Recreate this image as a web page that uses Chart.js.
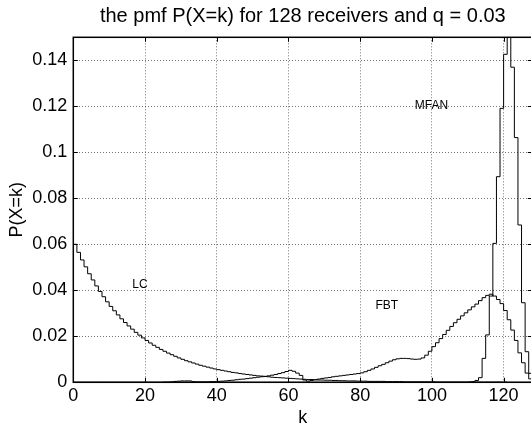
<!DOCTYPE html>
<html><head><meta charset="utf-8">
<script src="https://cdn.jsdelivr.net/npm/chart.js@4.4.1/dist/chart.umd.min.js"></script>
<style>
html,body{margin:0;padding:0;background:#fff;overflow:hidden;width:531px;height:428px;}
#wrap{position:absolute;left:0;top:0;width:540px;height:428px;}
</style></head><body>
<div id="wrap"><canvas id="c" width="540" height="428"></canvas></div>
<script>
const k = [
  0,1,2,3,4,5,6,7,8,9,
  10,11,12,13,14,15,16,17,18,19,
  20,21,22,23,24,25,26,27,28,29,
  30,31,32,33,34,35,36,37,38,39,
  40,41,42,43,44,45,46,47,48,49,
  50,51,52,53,54,55,56,57,58,59,
  60,61,62,63,64,65,66,67,68,69,
  70,71,72,73,74,75,76,77,78,79,
  80,81,82,83,84,85,86,87,88,89,
  90,91,92,93,94,95,96,97,98,99,
  100,101,102,103,104,105,106,107,108,109,
  110,111,112,113,114,115,116,117,118,119,
  120,121,122,123,124,125,126,127,128
];
const lcValues = [
  0.0600,0.0565,0.0532,0.0502,0.0472,0.0445,0.0419,0.0395,0.0372,0.0350,
  0.0330,0.0311,0.0293,0.0276,0.0260,0.0245,0.0231,0.0217,0.0205,0.0193,
  0.0182,0.0171,0.0161,0.0152,0.0143,0.0135,0.0127,0.0120,0.0113,0.0106,
  0.0100,0.0094,0.0089,0.0084,0.0079,0.0074,0.0070,0.0066,0.0062,0.0058,
  0.0055,0.0052,0.0049,0.0046,0.0043,0.0041,0.0038,0.0036,0.0034,0.0032,
  0.0030,0.0028,0.0027,0.0025,0.0024,0.0022,0.0021,0.0020,0.0019,0.0018,
  0.0017,0.0016,0.0015,0.0014,0.0013,0.0012,0.0012,0.0011,0.0010,0.0010,
  0.0009,0.0009,0.0008,0.0008,0.0007,0.0007,0.0006,0.0006,0.0006,0.0005,
  0.0005,0.0005,0.0004,0.0004,0.0004,0.0004,0.0004,0.0003,0.0003,0.0003,
  0.0003,0.0003,0.0002,0.0002,0.0002,0.0002,0.0002,0.0002,0.0002,0.0002,
  0.0002,0.0001,0.0001,0.0001,0.0001,0.0001,0.0001,0.0001,0.0001,0.0001,
  0.0001,0.0001,0.0001,0.0001,0.0001,0.0001,0.0001,0.0001,0.0001,0.0001,
  0.0001,0.0000,0.0000,0.0000,0.0000,0.0000,0.0000,0.0000,0.0000
];
const fbtValues = [
  0,0,0,0,0,0,0,0,0,0,
  0,0,0,0,0,0,0,0,0,0,
  0,0,0,0,0,0.0001,0.0001,0.0002,0.0004,0.0005,
  0.0006,0.0006,0.0006,0.0003,0.0002,0.0002,0.0002,0.0002,0.0003,0.0003,
  0.0004,0.0005,0.0006,0.0008,0.0009,0.0011,0.0013,0.0014,0.0016,0.0018,
  0.0020,0.0022,0.0024,0.0026,0.0028,0.0031,0.0034,0.0038,0.0042,0.0047,
  0.0052,0.0048,0.0040,0.0030,0.0010,0.0005,0.0008,0.0011,0.0014,0.0017,
  0.0019,0.0021,0.0024,0.0026,0.0028,0.0030,0.0032,0.0034,0.0036,0.0038,
  0.0041,0.0046,0.0052,0.0058,0.0065,0.0072,0.0078,0.0085,0.0092,0.0098,
  0.0102,0.0104,0.0104,0.0103,0.0101,0.0100,0.0101,0.0106,0.0118,0.0135,
  0.0155,0.0172,0.0190,0.0208,0.0226,0.0243,0.0259,0.0274,0.0289,0.0302,
  0.0315,0.0328,0.0340,0.0355,0.0368,0.0378,0.0383,0.0375,0.0360,0.0342,
  0.0312,0.0272,0.0227,0.0182,0.0128,0.0085,0.0040,0.0015,0.0000
];
const mfanValues = [
  0,0,0,0,0,0,0,0,0,0,
  0,0,0,0,0,0,0,0,0,0,
  0,0,0,0,0,0,0,0,0,0,
  0,0,0,0,0,0,0,0,0,0,
  0,0,0,0,0,0,0,0,0,0,
  0,0,0,0,0,0,0,0,0,0,
  0,0,0,0,0,0,0,0,0,0,
  0,0,0,0,0,0,0,0,0,0,
  0,0,0,0,0,0,0,0,0,0,
  0,0,0,0,0,0,0,0,0,0,
  0,0,0,0,0,0,0,0,0,0,
  0.0001,0.0003,0.0008,0.0020,0.0104,0.0206,0.0375,0.0604,0.0894,0.1191,
  0.1426,0.1520,0.1370,0.1064,0.0684,0.0346,0.0133,0.0039,0.0008
];
const xTicks = [0,20,40,60,80,100,120];
const yTicks = [0,0.02,0.04,0.06,0.08,0.1,0.12,0.14];
const yTickLabels = ['0','0.02','0.04','0.06','0.08','0.1','0.12','0.14'];
const curveLabels = [
  {text:'LC', k:18.6, p:0.0426},
  {text:'FBT', k:87.4, p:0.0333},
  {text:'MFAN', k:99.9, p:0.1201}
];
const titleText = 'the pmf P(X=k) for 128 receivers and q = 0.03';

const FONT = "'Liberation Sans', Arial, Helvetica, sans-serif";
const series = (label, vals) => ({
  label,
  data: k.map((x, i) => ({x: x, y: vals[i]})),
  stepped: true,
  borderColor: '#000',
  borderWidth: 1,
  pointRadius: 0,
  fill: false,
  tension: 0
});

const boxPlugin = {
  id: 'box',
  afterDatasetsDraw(chart) {
    const {ctx, chartArea: a, scales: {x, y}} = chart;
    ctx.save();
    ctx.strokeStyle = '#000';
    ctx.lineWidth = 1.5;
    ctx.strokeRect(a.left, a.top, a.right - a.left, a.bottom - a.top);
    ctx.lineWidth = 1;
    const L = 4.5;
    const seg = (x1, y1, x2, y2) => { ctx.beginPath(); ctx.moveTo(x1, y1); ctx.lineTo(x2, y2); ctx.stroke(); };
    xTicks.forEach(v => {
      const px = Math.round(x.getPixelForValue(v)) + 0.5;
      seg(px, a.bottom, px, a.bottom - L);
      seg(px, a.top, px, a.top + L);
    });
    yTicks.forEach(v => {
      const py = Math.round(y.getPixelForValue(v)) + 0.5;
      seg(a.left, py, a.left + L, py);
      seg(a.right, py, a.right - L, py);
    });
    ctx.fillStyle = '#000';
    ctx.font = '12px ' + FONT;
    ctx.textAlign = 'center';
    ctx.textBaseline = 'middle';
    curveLabels.forEach(l => ctx.fillText(l.text, x.getPixelForValue(l.k), y.getPixelForValue(l.p)));
    ctx.font = '20px ' + FONT;
    ctx.textBaseline = 'alphabetic';
    ctx.fillText(titleText, (a.left + a.right) / 2, 22);
    ctx.restore();
  }
};

new Chart(document.getElementById('c'), {
  type: 'line',
  data: {datasets: [series('LC', lcValues), series('FBT', fbtValues), series('MFAN', mfanValues)]},
  options: {
    responsive: false,
    devicePixelRatio: 1,
    animation: false,
    layout: {padding: {left: 0, right: 7.7, top: 37.3, bottom: 0}},
    plugins: {
      legend: {display: false},
      tooltip: {enabled: false},
      title: {display: false}
    },
    scales: {
      x: {
        type: 'linear',
        min: 0, max: 128,
        afterBuildTicks: s => { s.ticks = xTicks.map(v => ({value: v})); },
        afterFit: s => { s.height = 45.7; },
        ticks: {color: '#000', font: {family: FONT, size: 18}, padding: 3, maxRotation: 0, autoSkip: false},
        grid: {color: 'rgba(0,0,0,0.55)', lineWidth: 1, drawTicks: false},
        border: {display: false, dash: [1, 2]},
        title: {display: true, text: 'k', color: '#000', font: {family: FONT, size: 18, lineHeight: 1}, padding: {top: 0, bottom: 1}}
      },
      y: {
        min: 0, max: 0.15,
        afterBuildTicks: s => { s.ticks = yTicks.map(v => ({value: v})); },
        afterFit: s => { s.width = 73.3; },
        ticks: {
          color: '#000', font: {family: FONT, size: 18}, padding: 6,
          callback: v => { const i = yTicks.indexOf(v); return i >= 0 ? yTickLabels[i] : ''; }
        },
        grid: {color: 'rgba(0,0,0,0.55)', lineWidth: 1, drawTicks: false},
        border: {display: false, dash: [1, 2]},
        title: {display: true, text: 'P(X=k)', color: '#000', font: {family: FONT, size: 18, lineHeight: 1.2}, padding: {top: 6, bottom: 0}}
      }
    }
  },
  plugins: [boxPlugin]
});
</script>
</body></html>
